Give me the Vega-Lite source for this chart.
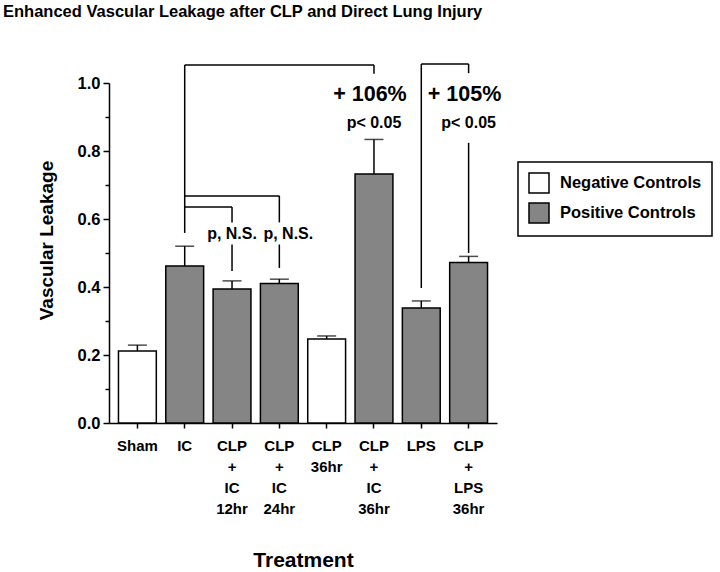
{
  "$schema": "https://vega.github.io/schema/vega-lite/v6.json",
  "autosize": {"type": "none"},
  "width": 388,
  "height": 340,
  "padding": {"left": 109, "top": 83, "right": 223, "bottom": 149},
  "background": "white",
  "title": {
    "text": "Enhanced Vascular Leakage after CLP and Direct Lung Injury",
    "anchor": "start",
    "frame": "group",
    "font": "Liberation Sans",
    "fontSize": 16.5,
    "fontWeight": "bold",
    "color": "black",
    "dx": -106,
    "dy": -39
  },
  "config": {
    "view": {"stroke": null},
    "font": "Liberation Sans",
    "legend": {"strokeColor": "black", "strokeWidth": 1.5},
    "axis": {
      "domainColor": "black",
      "domainWidth": 1.5,
      "tickColor": "black",
      "tickWidth": 1.5,
      "labelColor": "black",
      "titleColor": "black",
      "labelFont": "Liberation Sans",
      "titleFont": "Liberation Sans",
      "labelFontWeight": "bold",
      "titleFontWeight": "bold",
      "grid": false
    }
  },
  "datasets": {
    "bars": [
      {"treatment": "Sham", "leakage": 0.212, "upper": 0.229, "group": "Negative Controls"},
      {"treatment": "IC", "leakage": 0.462, "upper": 0.520, "group": "Positive Controls"},
      {"treatment": "CLP|+|IC|12hr", "leakage": 0.394, "upper": 0.418, "group": "Positive Controls"},
      {"treatment": "CLP|+|IC|24hr", "leakage": 0.410, "upper": 0.423, "group": "Positive Controls"},
      {"treatment": "CLP|36hr", "leakage": 0.247, "upper": 0.256, "group": "Negative Controls"},
      {"treatment": "CLP|+|IC|36hr", "leakage": 0.732, "upper": 0.834, "group": "Positive Controls"},
      {"treatment": "LPS", "leakage": 0.338, "upper": 0.359, "group": "Positive Controls"},
      {"treatment": "CLP|+|LPS|36hr", "leakage": 0.472, "upper": 0.490, "group": "Positive Controls"}
    ],
    "links": [
      {"from": "IC", "to": "IC", "y1": 0.559, "y2": 1.053},
      {"from": "IC", "to": "CLP|+|IC|36hr", "y1": 1.053, "y2": 1.053},
      {"from": "CLP|+|IC|36hr", "to": "CLP|+|IC|36hr", "y1": 1.027, "y2": 1.053},
      {"from": "IC", "to": "CLP|+|IC|24hr", "y1": 0.668, "y2": 0.668},
      {"from": "IC", "to": "CLP|+|IC|12hr", "y1": 0.635, "y2": 0.635},
      {"from": "CLP|+|IC|12hr", "to": "CLP|+|IC|12hr", "y1": 0.590, "y2": 0.635},
      {"from": "CLP|+|IC|12hr", "to": "CLP|+|IC|12hr", "y1": 0.447, "y2": 0.525},
      {"from": "CLP|+|IC|24hr", "to": "CLP|+|IC|24hr", "y1": 0.590, "y2": 0.668},
      {"from": "CLP|+|IC|24hr", "to": "CLP|+|IC|24hr", "y1": 0.456, "y2": 0.525},
      {"from": "LPS", "to": "LPS", "y1": 0.397, "y2": 1.056},
      {"from": "LPS", "to": "CLP|+|LPS|36hr", "y1": 1.056, "y2": 1.056},
      {"from": "CLP|+|LPS|36hr", "to": "CLP|+|LPS|36hr", "y1": 1.029, "y2": 1.056},
      {"from": "CLP|+|LPS|36hr", "to": "CLP|+|LPS|36hr", "y1": 0.500, "y2": 0.824}
    ],
    "big": [
      {"treatment": "CLP|+|IC|36hr", "y": 0.965, "note": "+  106%"},
      {"treatment": "CLP|+|LPS|36hr", "y": 0.965, "note": "+  105%"}
    ],
    "small": [
      {"treatment": "CLP|+|IC|36hr", "y": 0.882, "note": "p< 0.05"},
      {"treatment": "CLP|+|LPS|36hr", "y": 0.882, "note": "p< 0.05"},
      {"treatment": "CLP|+|IC|12hr", "y": 0.556, "note": "p, N.S."}
    ],
    "small2": [
      {"treatment": "CLP|+|IC|24hr", "y": 0.556, "note": "p, N.S."}
    ]
  },
  "encoding": {
    "x": {
      "field": "treatment",
      "type": "nominal",
      "sort": null,
      "scale": {
        "domain": ["Sham", "IC", "CLP|+|IC|12hr", "CLP|+|IC|24hr", "CLP|36hr", "CLP|+|IC|36hr", "LPS", "CLP|+|LPS|36hr"],
        "paddingInner": 0.2,
        "paddingOuter": 0.2
      },
      "axis": {
        "title": "Treatment",
        "titleFontSize": 21,
        "titlePadding": 33,
        "labelAngle": 0,
        "labelFontSize": 15,
        "labelLineHeight": 21,
        "labelExpr": "split(datum.label, '|')",
        "labelPadding": 10,
        "tickSize": 5,
        "labelBaseline": "top"
      }
    },
    "y": {
      "type": "quantitative",
      "scale": {"domain": [0, 1], "nice": false, "zero": true},
      "axis": {
        "title": "Vascular Leakage",
        "titleFontSize": 19,
        "titlePadding": 21,
        "titleY": 157,
        "values": [0, 0.1, 0.2, 0.3, 0.4, 0.5, 0.6, 0.7, 0.8, 0.9, 1.0],
        "labelExpr": "round(datum.value*10) % 2 == 0 ? format(datum.value, '.1f') : ''",
        "labelFontSize": 16.5,
        "labelPadding": 3,
        "tickSize": {"condition": {"test": "round(datum.value*10) % 2 == 0", "value": 6}, "value": 4}
      }
    }
  },
  "layer": [
    {
      "data": {"name": "bars"},
      "mark": {"type": "rule", "stroke": "black", "strokeWidth": 1.5},
      "encoding": {"y": {"field": "leakage"}, "y2": {"field": "upper"}}
    },
    {
      "data": {"name": "bars"},
      "mark": {"type": "tick", "orient": "horizontal", "size": 19, "thickness": 1.5, "color": "black"},
      "encoding": {"y": {"field": "upper"}}
    },
    {
      "data": {"name": "bars"},
      "mark": {"type": "bar", "stroke": "black", "strokeWidth": 1.5},
      "encoding": {
        "y": {"field": "leakage"},
        "fill": {
          "field": "group",
          "type": "nominal",
          "scale": {"domain": ["Negative Controls", "Positive Controls"], "range": ["white", "#858585"]},
          "legend": {
            "title": null,
            "orient": "none",
            "legendX": 409,
            "legendY": 79,
            "strokeColor": "black",
            "padding": 10,
            "symbolType": "square",
            "symbolSize": 400,
            "symbolStrokeColor": "black",
            "symbolStrokeWidth": 1.5,
            "labelFont": "Liberation Sans",
            "labelFontSize": 16.5,
            "labelFontWeight": "bold",
            "labelColor": "black",
            "labelOffset": 10,
            "rowPadding": 4,
            "labelLimit": 300
          }
        }
      }
    },
    {
      "data": {"name": "links"},
      "mark": {"type": "rule", "stroke": "black", "strokeWidth": 1.5},
      "encoding": {
        "x": {"field": "from"},
        "x2": {"field": "to"},
        "y": {"field": "y1"},
        "y2": {"field": "y2"}
      }
    },
    {
      "data": {"name": "big"},
      "mark": {"type": "text", "font": "Liberation Sans", "fontWeight": "bold", "fontSize": 21.5, "color": "black", "dx": -4},
      "encoding": {"y": {"field": "y"}, "text": {"field": "note"}}
    },
    {
      "data": {"name": "small"},
      "mark": {"type": "text", "font": "Liberation Sans", "fontWeight": "bold", "fontSize": 16, "color": "black"},
      "encoding": {"y": {"field": "y"}, "text": {"field": "note"}}
    },
    {
      "data": {"name": "small2"},
      "mark": {"type": "text", "font": "Liberation Sans", "fontWeight": "bold", "fontSize": 16, "color": "black", "dx": 9},
      "encoding": {"y": {"field": "y"}, "text": {"field": "note"}}
    }
  ]
}
